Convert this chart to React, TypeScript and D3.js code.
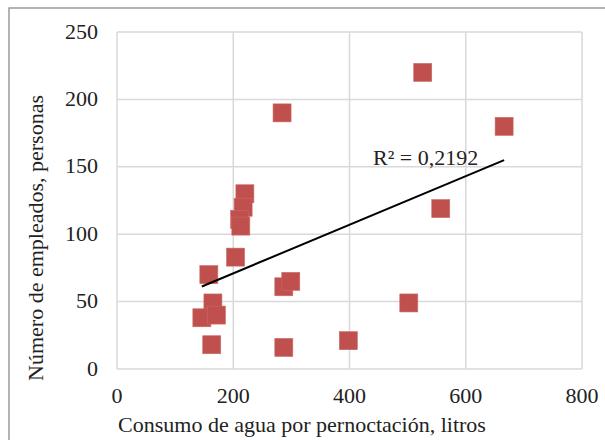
import React from "react";
import { scaleLinear, line, extent } from "d3";

const width = 605;
const height = 440;

// consumo de agua por pernoctación (litros) / número de empleados
const waterUse = [284, 220, 217, 211, 213, 204, 158, 165, 146, 171, 163, 287, 299, 287, 398, 526, 666, 557, 502];
const employees = [190, 130, 120, 111, 106, 83, 70, 49, 38, 40, 18, 61, 65, 16, 21, 220, 180, 119, 49];
const xTicks = [0, 200, 400, 600, 800];
const yTicks = [0, 50, 100, 150, 200, 250];
const r2Label = "R² = 0,2192";

const margin = { left: 117, right: 23, top: 32, bottom: 71 };
const x = scaleLinear().domain([0, 800]).range([margin.left, width - margin.right]);
const y = scaleLinear().domain([0, 250]).range([height - margin.bottom, margin.top]);

// least squares fit, same as the Excel linear trendline
const n = waterUse.length;
const mx = waterUse.reduce((a, b) => a + b, 0) / n;
const my = employees.reduce((a, b) => a + b, 0) / n;
let sxy = 0;
let sxx = 0;
waterUse.forEach((v, i) => {
  sxy += (v - mx) * (employees[i] - my);
  sxx += (v - mx) * (v - mx);
});
const slope = sxy / sxx;
const intercept = my - slope * mx;
const [xMin, xMax] = extent(waterUse) as [number, number];
const trend = line<number>()
  .x((d) => x(d))
  .y((d) => y(intercept + slope * d));

const font = "'Liberation Serif', 'Times New Roman', serif";
const gridColor = "#D9D9D9";
const markerSize = 18;
const fs = 22;

const App = () => {
  return (
    <svg
      width={width}
      height={height}
      style={{ position: "absolute", left: 0, top: 0, background: "#fff" }}
      fontFamily={font}
    >
      <rect x={9} y={8} width={width} height={height} fill="#fff" stroke="#8c8c8c" strokeWidth={1.3} />

      {xTicks.map((t) => (
        <line key={"gx" + t} x1={x(t)} x2={x(t)} y1={y(0)} y2={y(250)} stroke={gridColor} strokeWidth={1.5} />
      ))}
      {yTicks.map((t) => (
        <line key={"gy" + t} x1={x(0)} x2={x(800)} y1={y(t)} y2={y(t)} stroke={gridColor} strokeWidth={1.5} />
      ))}

      {yTicks.map((t) => (
        <text key={"ty" + t} x={98} y={y(t) + 6.5} textAnchor="end" fontSize={fs} fill="#222">
          {t}
        </text>
      ))}
      {xTicks.map((t) => (
        <text key={"tx" + t} x={x(t)} y={403} textAnchor="middle" fontSize={fs} fill="#222">
          {t}
        </text>
      ))}

      <text x={302} y={432} textAnchor="middle" fontSize={fs} fill="#222">
        Consumo de agua por pernoctación, litros
      </text>
      <text
        transform={`translate(43,238) rotate(-90)`}
        textAnchor="middle"
        fontSize={fs}
        fill="#222"
      >
        Número de empleados, personas
      </text>

      {waterUse.map((v, i) => (
        <rect
          key={"p" + i}
          x={x(v) - markerSize / 2}
          y={y(employees[i]) - markerSize / 2}
          width={markerSize}
          height={markerSize}
          fill="#C0504D"
          stroke="#c96a67"
          strokeWidth={0.6}
        />
      ))}

      <path d={trend([xMin, xMax]) || ""} fill="none" stroke="#000" strokeWidth={2} />
      <text x={373} y={165} fontSize={fs} fill="#222">
        {r2Label}
      </text>
    </svg>
  );
};

export default App;
